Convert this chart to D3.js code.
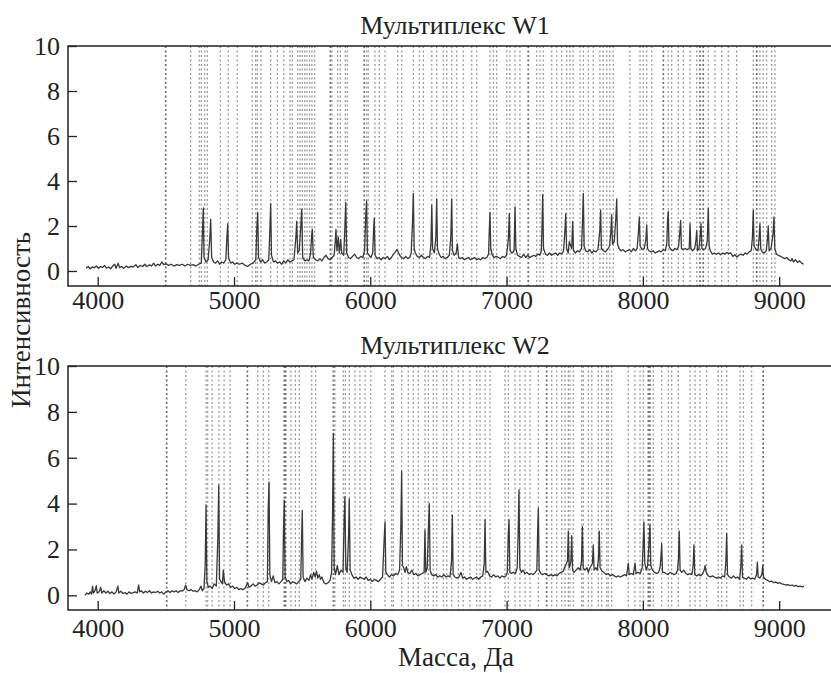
<!DOCTYPE html>
<head>
  <meta charset="utf-8">
  <script src="https://d3js.org/d3.v7.min.js"></script>
  <style>
    body { margin:0; background:#fff; }
    svg { display:block; }
  </style>
</head>

<body>
  <script>
    var serif = "Liberation Serif";

    // tick values
    var massTicks = [4000, 5000, 6000, 7000, 8000, 9000],
        intTicks = [0, 2, 4, 6, 8, 10];

    // reference masses (dotted lines), panel W1
    var w1Refs = [4499, 4682, 4745, 4760, 4785, 4804, 4900, 4958, 5024, 5134, 5159, 5171, 5198, 5269, 5318, 5365,
      5411, 5428, 5467, 5484, 5501, 5519, 5536, 5555, 5572, 5592, 5707, 5719, 5761, 5780, 5817, 5831, 5956, 5974,
      5985, 6034, 6066, 6108, 6201, 6230, 6316, 6360, 6389, 6451, 6487, 6536, 6561, 6597, 6634, 6682, 6744, 6781,
      6878, 6903, 6927, 7001, 7025, 7062, 7098, 7159, 7221, 7245, 7269, 7331, 7368, 7404, 7441, 7465, 7489, 7539,
      7563, 7600, 7636, 7685, 7709, 7735, 7758, 7783, 7905, 7979, 8003, 8028, 8065, 8150, 8186, 8211, 8260, 8297,
      8346, 8395, 8419, 8443, 8480, 8529, 8578, 8627, 8688, 8810, 8835, 8859, 8883, 8908, 8945, 8969];
    var w1Dark = [4499, 5707, 5956, 7159, 8150, 8419, 8443, 8835];

    // reference masses, panel W2
    var w2Refs = [4506, 4646, 4795, 4807, 4839, 4890, 4927, 4971, 5098, 5174, 5215, 5255, 5369, 5379, 5418, 5450,
      5479, 5570, 5599, 5729, 5741, 5802, 5817, 5846, 5888, 5924, 5961, 6003, 6108, 6157, 6169, 6230, 6279, 6316,
      6352, 6401, 6426, 6462, 6487, 6536, 6561, 6597, 6646, 6682, 6731, 6781, 6805, 6842, 6878, 6988, 7013, 7062,
      7098, 7135, 7172, 7233, 7294, 7331, 7368, 7404, 7429, 7453, 7465, 7489, 7551, 7563, 7600, 7625, 7673, 7698,
      7735, 7746, 7771, 7893, 7942, 7979, 8003, 8040, 8052, 8076, 8138, 8187, 8211, 8260, 8346, 8383, 8419, 8468,
      8553, 8578, 8615, 8713, 8737, 8798, 8883];
    var w2Dark = [4506, 5098, 5369, 5379, 5729, 7294, 8040, 8052, 8883];

    // spectrum W1: [mass, intensity]
    var w1Spectrum = [[3914,0.12],[3930,0.2],[3945,0.1],[3960,0.18],[3975,0.14],[3990,0.22],[4005,0.12],[4020,0.2],
      [4035,0.15],[4050,0.25],[4065,0.12],[4080,0.18],[4095,0.1],[4110,0.22],[4125,0.3],[4135,0.12],[4150,0.35],
      [4160,0.15],[4175,0.2],[4190,0.12],[4210,0.22],[4225,0.15],[4240,0.2],[4260,0.18],[4280,0.28],[4295,0.15],
      [4310,0.25],[4330,0.2],[4345,0.3],[4360,0.2],[4380,0.28],[4395,0.22],[4410,0.35],[4425,0.22],[4440,0.3],
      [4455,0.25],[4470,0.4],[4485,0.28],[4500,0.32],[4520,0.25],[4540,0.3],[4560,0.22],[4580,0.28],[4600,0.25],
      [4620,0.3],[4640,0.22],[4660,0.3],[4680,0.25],[4700,0.28],[4720,0.22],[4740,0.3],[4760,0.35],[4770,2.0],
      [4775,2.8],[4780,0.6],[4795,0.4],[4810,0.5],[4822,1.4],[4829,2.3],[4836,0.6],[4850,0.4],[4865,0.35],
      [4880,0.45],[4895,0.3],[4910,0.4],[4925,0.35],[4940,0.5],[4948,1.5],[4954,2.1],[4960,0.6],[4975,0.35],
      [4990,0.4],[5005,0.3],[5020,0.35],[5040,0.3],[5060,0.35],[5080,0.25],[5100,0.2],[5120,0.3],[5140,0.35],
      [5160,0.5],[5168,2.0],[5174,2.6],[5180,0.6],[5195,0.4],[5210,0.5],[5225,0.35],[5240,0.4],[5255,0.5],
      [5263,1.8],[5269,3.0],[5275,0.7],[5290,0.4],[5305,0.45],[5320,0.35],[5335,0.4],[5350,0.3],[5365,0.45],
      [5380,0.35],[5395,0.5],[5410,0.4],[5425,0.45],[5440,0.5],[5454,1.5],[5460,2.2],[5467,0.8],[5478,0.9],
      [5490,2.0],[5497,2.75],[5504,0.6],[5520,0.45],[5535,0.5],[5550,0.45],[5562,0.8],[5570,1.6],[5575,1.85],
      [5582,0.6],[5600,0.5],[5615,0.45],[5630,0.55],[5645,0.45],[5660,0.6],[5675,0.7],[5690,0.55],[5705,0.5],
      [5720,0.6],[5735,0.7],[5743,1.3],[5748,1.85],[5755,0.9],[5765,1.5],[5772,0.8],[5783,1.4],[5790,0.8],
      [5805,0.7],[5814,2.0],[5820,3.05],[5827,0.8],[5840,0.6],[5855,0.55],[5870,0.65],[5885,0.75],[5900,0.6],
      [5915,0.55],[5930,0.65],[5945,0.6],[5958,0.9],[5967,2.5],[5973,3.1],[5979,0.8],[5990,0.7],[6005,0.6],
      [6018,0.8],[6024,1.8],[6029,2.35],[6035,0.7],[6050,0.55],[6065,0.6],[6080,0.5],[6095,0.6],[6110,0.55],
      [6125,0.65],[6140,0.5],[6155,0.6],[6170,0.75],[6185,0.85],[6195,0.95],[6205,0.85],[6215,0.7],[6230,0.6],
      [6245,0.55],[6260,0.65],[6275,0.55],[6290,0.6],[6300,0.8],[6310,2.2],[6316,3.45],[6322,1.0],[6330,0.8],
      [6345,0.65],[6360,0.6],[6375,0.7],[6390,0.6],[6405,0.55],[6420,0.65],[6435,0.6],[6445,1.2],[6451,2.93],
      [6457,1.0],[6470,0.8],[6481,1.5],[6487,3.2],[6493,1.0],[6505,0.75],[6520,0.6],[6535,0.65],[6550,0.55],
      [6565,0.6],[6580,0.7],[6591,1.5],[6597,3.2],[6603,0.9],[6615,0.7],[6630,0.8],[6639,1.2],[6648,0.6],
      [6660,0.55],[6675,0.6],[6690,0.5],[6705,0.55],[6720,0.6],[6735,0.5],[6750,0.55],[6765,0.6],[6780,0.5],
      [6795,0.55],[6810,0.5],[6825,0.6],[6840,0.55],[6855,0.6],[6868,0.75],[6873,1.8],[6878,2.6],[6884,1.0],
      [6895,0.7],[6910,0.6],[6925,0.65],[6940,0.6],[6955,0.55],[6970,0.65],[6985,0.6],[7000,0.7],[7013,1.4],
      [7020,2.55],[7026,0.9],[7040,0.8],[7055,0.9],[7062,2.85],[7068,1.0],[7080,0.7],[7095,0.65],[7110,0.6],
      [7125,0.75],[7140,0.6],[7155,0.7],[7170,0.6],[7185,0.65],[7200,0.7],[7215,0.65],[7230,0.75],[7245,0.7],
      [7255,0.9],[7260,2.0],[7265,3.4],[7271,1.0],[7285,0.75],[7300,0.7],[7315,0.8],[7330,0.7],[7345,0.75],
      [7360,0.8],[7375,0.7],[7390,0.8],[7405,0.75],[7418,0.9],[7428,1.8],[7434,2.55],[7440,1.0],[7452,0.8],
      [7460,1.3],[7478,1.0],[7485,2.2],[7491,0.9],[7505,0.8],[7520,0.9],[7535,0.85],[7550,1.0],[7557,2.2],
      [7563,3.45],[7569,1.1],[7580,0.9],[7595,0.85],[7610,0.95],[7625,0.8],[7640,0.9],[7655,0.85],[7670,0.95],
      [7684,1.8],[7690,2.7],[7696,1.0],[7710,0.9],[7725,0.85],[7740,0.95],[7755,1.1],[7765,1.7],[7771,2.5],
      [7777,1.2],[7790,1.3],[7802,2.4],[7808,3.2],[7814,1.2],[7825,1.0],[7840,0.9],[7855,0.95],[7870,0.85],
      [7885,0.9],[7900,0.95],[7915,0.85],[7930,1.0],[7945,0.9],[7958,1.0],[7968,1.8],[7974,2.4],[7980,1.1],
      [7995,0.95],[8010,1.0],[8022,1.4],[8028,2.05],[8034,1.0],[8045,0.9],[8060,0.85],[8075,0.9],[8090,0.8],
      [8105,0.85],[8120,0.9],[8135,0.85],[8150,0.95],[8165,0.9],[8175,1.2],[8181,2.2],[8186,2.65],[8192,1.1],
      [8205,0.95],[8220,0.9],[8235,1.0],[8250,0.95],[8262,1.1],[8271,1.7],[8277,2.25],[8283,1.0],[8295,0.95],
      [8310,1.0],[8325,0.95],[8340,1.0],[8346,2.1],[8352,1.0],[8365,0.9],[8380,1.0],[8390,1.4],[8395,1.8],
      [8401,0.9],[8412,1.0],[8421,1.6],[8427,2.1],[8433,1.0],[8445,0.95],[8460,1.0],[8472,1.3],[8480,2.8],
      [8486,1.1],[8495,0.9],[8510,0.75],[8525,0.8],[8540,0.75],[8555,0.8],[8570,0.72],[8585,0.8],[8600,0.75],
      [8615,0.82],[8630,0.78],[8645,0.8],[8660,0.65],[8675,0.72],[8690,0.62],[8705,0.7],[8720,0.75],[8735,0.7],
      [8750,0.8],[8765,0.75],[8780,0.85],[8795,0.9],[8804,1.5],[8810,2.7],[8816,1.1],[8830,0.95],[8845,0.9],
      [8853,1.5],[8859,2.1],[8865,1.0],[8875,0.85],[8890,0.8],[8905,0.9],[8914,1.4],[8920,2.0],[8926,0.9],
      [8940,1.0],[8956,1.7],[8962,2.4],[8968,1.0],[8980,0.75],[8995,0.7],[9010,0.65],[9025,0.6],[9040,0.55],
      [9055,0.6],[9070,0.5],[9085,0.45],[9095,0.55],[9105,0.4],[9120,0.5],[9135,0.38],[9150,0.45],[9165,0.35],
      [9180,0.3]];

    // spectrum W2: [mass, intensity]
    var w2Spectrum = [[3907,0.0],[3920,0.1],[3935,0.05],[3945,0.15],[3955,0.05],[3962,0.4],[3968,0.1],[3980,0.2],
      [3990,0.42],[3996,0.1],[4010,0.15],[4022,0.35],[4030,0.1],[4045,0.2],[4060,0.1],[4075,0.18],[4090,0.08],
      [4105,0.15],[4120,0.05],[4135,0.15],[4148,0.4],[4155,0.1],[4170,0.18],[4185,0.08],[4200,0.12],[4215,0.05],
      [4230,0.15],[4245,0.08],[4260,0.12],[4275,0.15],[4290,0.1],[4300,0.45],[4308,0.15],[4320,0.2],[4335,0.1],
      [4350,0.18],[4365,0.12],[4380,0.2],[4395,0.1],[4410,0.15],[4425,0.12],[4440,0.18],[4455,0.1],[4470,0.15],
      [4485,0.05],[4500,0.15],[4515,0.2],[4530,0.12],[4545,0.2],[4560,0.15],[4575,0.2],[4590,0.12],[4605,0.2],
      [4620,0.18],[4635,0.25],[4645,0.45],[4655,0.25],[4670,0.2],[4685,0.25],[4700,0.18],[4715,0.2],[4730,0.15],
      [4745,0.25],[4758,0.4],[4768,0.2],[4780,0.3],[4789,1.4],[4795,3.94],[4801,0.6],[4812,0.35],[4825,0.4],
      [4840,0.3],[4855,0.5],[4870,0.4],[4881,2.4],[4888,4.8],[4894,0.7],[4905,0.6],[4915,0.5],[4922,1.1],
      [4930,0.6],[4945,0.45],[4960,0.5],[4975,0.35],[4990,0.4],[5005,0.3],[5020,0.35],[5035,0.25],[5050,0.3],
      [5065,0.25],[5080,0.3],[5092,0.45],[5100,0.55],[5110,0.35],[5125,0.4],[5140,0.5],[5155,0.4],[5170,0.45],
      [5185,0.55],[5200,0.5],[5215,0.45],[5230,0.55],[5245,0.6],[5251,3.8],[5257,4.93],[5263,0.9],[5275,0.6],
      [5288,0.85],[5300,0.55],[5315,0.6],[5330,0.5],[5345,0.6],[5358,0.7],[5363,2.8],[5369,4.15],[5375,0.8],
      [5388,0.6],[5400,0.65],[5415,0.5],[5430,0.6],[5445,0.55],[5460,0.5],[5475,0.6],[5490,0.7],[5496,2.5],
      [5501,3.7],[5507,0.8],[5520,0.6],[5535,0.75],[5550,0.65],[5562,0.9],[5572,0.7],[5585,1.0],[5596,0.8],
      [5605,1.05],[5615,0.75],[5625,0.9],[5635,0.7],[5645,0.8],[5660,0.55],[5675,0.5],[5690,0.55],[5705,0.65],
      [5716,1.0],[5723,3.5],[5729,7.06],[5735,1.2],[5745,0.9],[5758,1.3],[5770,0.9],[5785,1.1],[5800,1.0],
      [5808,3.3],[5814,4.3],[5820,1.2],[5830,1.0],[5840,2.5],[5846,4.2],[5852,1.1],[5865,0.9],[5880,0.75],
      [5895,0.8],[5910,0.7],[5925,0.8],[5940,0.75],[5955,0.7],[5970,0.8],[5985,0.65],[6000,0.7],[6015,0.6],
      [6030,0.7],[6045,0.65],[6060,0.6],[6075,0.7],[6090,0.8],[6102,2.5],[6108,3.2],[6114,1.0],[6125,0.9],
      [6140,0.8],[6155,0.9],[6170,0.85],[6185,0.95],[6200,0.9],[6215,1.1],[6224,3.0],[6230,5.4],[6236,1.3],
      [6245,1.2],[6255,1.0],[6265,1.25],[6275,1.0],[6290,0.95],[6305,1.1],[6320,0.9],[6335,0.95],[6350,0.85],
      [6365,0.9],[6380,0.95],[6395,1.0],[6401,2.85],[6407,1.0],[6418,1.2],[6427,3.0],[6433,4.0],[6439,1.1],
      [6450,0.9],[6465,0.85],[6480,0.9],[6495,0.8],[6510,0.85],[6525,0.8],[6540,0.9],[6555,0.8],[6570,0.85],
      [6585,0.8],[6596,1.5],[6602,3.5],[6608,0.9],[6620,0.8],[6635,0.75],[6650,0.8],[6665,1.0],[6678,0.75],
      [6690,0.8],[6705,0.7],[6720,0.75],[6735,0.8],[6750,0.7],[6765,0.75],[6780,0.8],[6795,0.7],[6810,0.8],
      [6825,0.85],[6836,1.4],[6842,3.3],[6848,1.0],[6860,1.05],[6875,0.85],[6890,0.8],[6905,0.9],[6920,0.8],
      [6935,0.85],[6950,0.75],[6965,0.85],[6980,0.8],[6995,0.85],[7005,1.0],[7012,2.6],[7018,3.3],[7024,1.0],
      [7035,0.95],[7050,1.0],[7065,0.95],[7078,1.2],[7085,2.8],[7091,4.6],[7097,1.2],[7108,1.0],[7120,1.1],
      [7135,0.95],[7150,1.0],[7165,0.9],[7180,0.95],[7195,0.9],[7210,1.0],[7222,1.1],[7228,2.8],[7233,3.8],
      [7239,1.1],[7250,0.95],[7265,0.9],[7280,0.95],[7295,0.9],[7310,0.85],[7325,0.9],[7340,0.85],[7355,0.9],
      [7370,0.85],[7385,0.95],[7400,1.0],[7415,1.05],[7425,1.2],[7447,1.5],[7453,2.8],[7459,1.2],[7465,1.3],
      [7472,1.5],[7478,2.6],[7484,1.1],[7495,1.0],[7510,1.1],[7525,1.2],[7540,1.1],[7550,1.5],[7556,3.0],
      [7562,1.2],[7575,1.1],[7590,1.2],[7600,1.0],[7612,1.2],[7630,1.4],[7636,2.2],[7642,1.1],[7655,1.2],
      [7665,1.1],[7674,1.6],[7680,2.8],[7686,1.2],[7700,1.05],[7715,1.0],[7730,0.9],[7745,0.95],[7760,0.85],
      [7775,0.9],[7790,0.85],[7805,0.8],[7820,0.85],[7835,0.8],[7850,0.85],[7865,0.9],[7880,0.85],[7893,1.4],
      [7900,0.9],[7915,0.95],[7930,0.9],[7942,1.4],[7950,0.95],[7965,1.0],[7980,0.95],[7995,1.2],[8002,2.2],
      [8008,3.2],[8014,1.4],[8025,1.1],[8035,1.3],[8045,2.3],[8052,3.05],[8058,1.3],[8070,1.1],[8085,1.0],
      [8100,0.95],[8115,1.0],[8126,1.2],[8132,1.6],[8138,2.25],[8144,1.0],[8155,1.0],[8170,0.95],[8185,0.9],
      [8200,1.0],[8215,0.95],[8230,0.9],[8245,0.95],[8255,1.1],[8261,1.6],[8267,2.8],[8273,1.1],[8285,1.0],
      [8300,1.1],[8315,0.95],[8330,0.9],[8345,0.95],[8360,0.9],[8369,1.3],[8375,2.2],[8381,0.9],[8395,0.85],
      [8410,0.9],[8425,0.85],[8440,0.95],[8450,1.1],[8456,1.3],[8465,1.0],[8480,0.85],[8495,0.8],[8510,0.85],
      [8525,0.8],[8540,0.75],[8555,0.8],[8570,0.75],[8585,0.85],[8600,0.8],[8609,1.5],[8615,2.7],[8621,0.9],
      [8635,0.8],[8650,0.75],[8665,0.85],[8680,0.75],[8695,0.8],[8710,0.7],[8719,1.3],[8725,2.2],[8731,0.8],
      [8745,0.75],[8760,0.7],[8775,0.8],[8790,0.72],[8805,0.75],[8820,0.7],[8834,0.9],[8840,1.45],[8846,0.8],
      [8858,0.75],[8873,0.9],[8879,1.3],[8885,0.8],[8900,0.7],[8915,0.65],[8930,0.6],[8945,0.62],[8960,0.55],
      [8975,0.58],[8990,0.52],[9005,0.55],[9020,0.5],[9035,0.48],[9050,0.45],[9065,0.47],[9080,0.42],[9095,0.45],
      [9110,0.4],[9125,0.43],[9140,0.38],[9155,0.4],[9170,0.37],[9182,0.4]];

    var width = 831, height = 673,
        left = 68, right = 842;

    var svg = d3.select("body").append("svg")
        .attr("width", width)
        .attr("height", height);

    var x = d3.scaleLinear().domain([3782, 9461]).range([left, right]);

    var panels = [
      { title: "Мультиплекс W1", top: 46, bottom: 286, ymin: -0.667, pad: 5,
        refs: w1Refs, dark: w1Dark, data: w1Spectrum },
      { title: "Мультиплекс W2", top: 366, bottom: 610, ymin: -0.64, pad: 9,
        refs: w2Refs, dark: w2Dark, data: w2Spectrum }
    ];

    panels.forEach(function(p) {
      var y = d3.scaleLinear().domain([p.ymin, 10]).range([p.bottom, p.top]);
      var g = svg.append("g");

      // dotted reference lines
      g.selectAll("line.ref").data(p.refs)
        .enter().append("line")
          .attr("class", "ref")
          .attr("x1", function(d) { return x(d); })
          .attr("x2", function(d) { return x(d); })
          .attr("y1", p.top)
          .attr("y2", p.bottom)
          .attr("stroke", function(d) { return p.dark.indexOf(d) >= 0 ? "#707070" : "#9c9c9c"; })
          .attr("stroke-width", function(d) { return p.dark.indexOf(d) >= 0 ? 1.7 : 1.3; })
          .attr("stroke-dasharray", "2,2.5");

      // spectrum
      var line = d3.line()
          .x(function(d) { return x(d[0]); })
          .y(function(d) { return y(d[1]); });

      g.append("path")
          .datum(p.data)
          .attr("d", line)
          .attr("fill", "none")
          .attr("stroke", "#383838")
          .attr("stroke-width", 1.3)
          .attr("stroke-linejoin", "round");

      // axes: ticks point inward
      var xAxis = d3.axisBottom(x).tickValues(massTicks).tickFormat(d3.format("d"))
          .tickSizeInner(-9).tickSizeOuter(0).tickPadding(p.pad);
      var yAxis = d3.axisLeft(y).tickValues(intTicks).tickFormat(d3.format("d"))
          .tickSizeInner(-9).tickSizeOuter(0).tickPadding(8);

      var gx = g.append("g").attr("transform", "translate(0," + p.bottom + ")").call(xAxis);
      var gy = g.append("g").attr("transform", "translate(" + left + ",0)").call(yAxis);

      [gx, gy].forEach(function(a) {
        a.attr("font-family", serif).attr("font-size", 26);
        a.select(".domain").remove();
        a.selectAll("line").attr("stroke", "#222").attr("stroke-width", 1.3);
        a.selectAll("text").attr("fill", "#222");
      });

      // frame
      g.append("rect")
          .attr("x", left)
          .attr("y", p.top)
          .attr("width", right - left)
          .attr("height", p.bottom - p.top)
          .attr("fill", "none")
          .attr("stroke", "#222")
          .attr("stroke-width", 1.5);

      g.append("text")
          .attr("x", 455)
          .attr("y", p.top - 12)
          .attr("text-anchor", "middle")
          .attr("font-family", serif)
          .attr("font-size", 26)
          .attr("fill", "#222")
          .text(p.title);
    });

    svg.append("text")
        .attr("x", 456)
        .attr("y", 666)
        .attr("text-anchor", "middle")
        .attr("font-family", serif)
        .attr("font-size", 27)
        .attr("fill", "#222")
        .text("Масса, Да");

    svg.append("text")
        .attr("transform", "translate(30,320) rotate(-90)")
        .attr("text-anchor", "middle")
        .attr("font-family", serif)
        .attr("font-size", 27)
        .attr("fill", "#222")
        .text("Интенсивность");
  </script>
</body>

</html>
